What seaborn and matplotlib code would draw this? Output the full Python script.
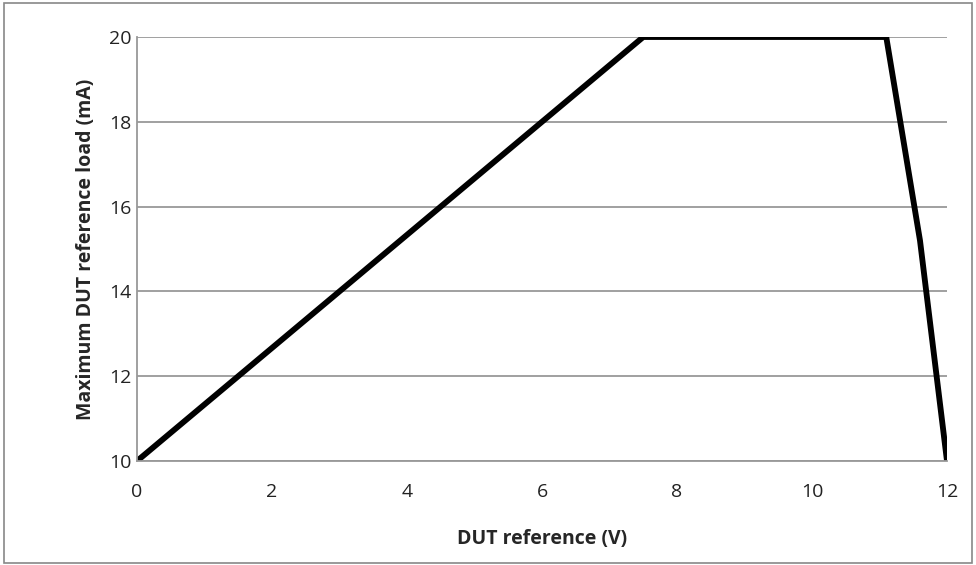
import matplotlib
matplotlib.use('Agg')
import seaborn as sns
import matplotlib.pyplot as plt
import pandas as pd
from matplotlib.patches import Rectangle

#### DATA ####
voltage = [0, 7.5, 11.1, 11.6, 12]
max_load = [10, 20, 20, 15.2, 10]
x_ticks = [0, 2, 4, 6, 8, 10, 12]
y_ticks = [10, 12, 14, 16, 18, 20]

df = pd.DataFrame({'DUT reference (V)': voltage, 'Maximum DUT reference load (mA)': max_load})

#### PLOT ####
sns.set_style('white')
plt.rcParams['font.family'] = ['Open Sans', 'DejaVu Sans']

fig = plt.figure(figsize=(9.76, 5.65), dpi=100)
ax = fig.add_axes([137 / 976, 1 - 461 / 565, (947 - 137) / 976, (461 - 37) / 565])

sns.lineplot(data=df, x='DUT reference (V)', y='Maximum DUT reference load (mA)',
             color='black', linewidth=4.2, ax=ax, sort=False)

ax.set_xlim(0, 12)
ax.set_ylim(10, 20)
ax.set_xticks(x_ticks)
ax.set_yticks(y_ticks)
ax.tick_params(axis='both', length=0, labelsize=14, colors='#222222')
ax.tick_params(axis='x', pad=16)
ax.tick_params(axis='y', pad=4)
ax.yaxis.grid(True, color='#999999', linewidth=1.3)
ax.set_axisbelow(True)
for side in ['top', 'right']:
    ax.spines[side].set_visible(False)
for side in ['left', 'bottom']:
    ax.spines[side].set_color('#999999')
    ax.spines[side].set_linewidth(1.3)

ax.set_xlabel('DUT reference (V)', fontsize=14, fontweight='bold', labelpad=20)
ax.set_ylabel('Maximum DUT reference load (mA)', fontsize=14, fontweight='bold', labelpad=9)

# outer chart border
fig.patches.append(Rectangle((0.004, 0.004), 0.992, 0.99, transform=fig.transFigure,
                             fill=False, edgecolor='#888888', linewidth=1.2))

plt.savefig('out.png', dpi=100)
plt.close()
